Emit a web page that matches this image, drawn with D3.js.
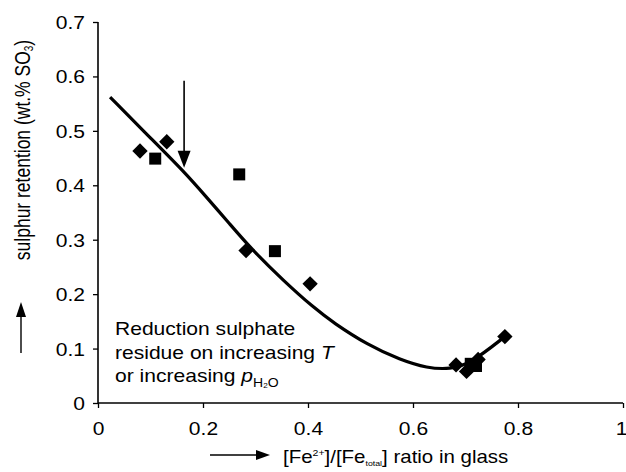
<!DOCTYPE html>
<html>
<head>
<meta charset="utf-8">
<script src="https://cdn.jsdelivr.net/npm/d3@7"></script>
<style>
  html, body { margin: 0; padding: 0; background: #fff; }
  svg { display: block; }
  text { font-family: "Liberation Sans", Arial, sans-serif; fill: #000; }
</style>
</head>
<body>
<svg id="chart" width="626" height="472"></svg>
<script>
// ---- data ----
const xTicks = [0, 0.2, 0.4, 0.6, 0.8, 1];
const xTickLabels = ["0", "0.2", "0.4", "0.6", "0.8", "1"];
const yTicks = [0, 0.1, 0.2, 0.3, 0.4, 0.5, 0.6, 0.7];
const yTickLabels = ["0", "0.1", "0.2", "0.3", "0.4", "0.5", "0.6", "0.7"];

const diamondX = [0.080, 0.131, 0.282, 0.404, 0.682, 0.702, 0.724, 0.775];
const diamondY = [0.463, 0.480, 0.280, 0.219, 0.070, 0.058, 0.080, 0.122];
const squareX = [0.109, 0.269, 0.337, 0.710, 0.720];
const squareY = [0.449, 0.420, 0.279, 0.072, 0.068];

// trend line
const trendX = [0.023, 0.100, 0.164, 0.205, 0.250, 0.291, 0.354, 0.411, 0.449, 0.513, 0.576, 0.627, 0.671, 0.709, 0.775];
const trendY = [0.562, 0.487, 0.425, 0.380, 0.330, 0.284, 0.224, 0.175, 0.147, 0.107, 0.079, 0.064, 0.062, 0.072, 0.122];

// annotation arrow (data units)
const arrowX = [0.164, 0.164];
const arrowY = [0.592, 0.432];

const noteLines = ["Reduction sulphate", "residue on increasing ", "or increasing "];

// ---- layout ----
const svg = d3.select("#chart");
const SX = 1.17; // horizontal text stretch of the reference
const x = d3.scaleLinear().domain([0, 1]).range([98, 623]);
const y = d3.scaleLinear().domain([0, 0.7]).range([403, 22]);

// axes
const xAxis = d3.axisBottom(x).tickValues(xTicks).tickSize(5).tickFormat((d, i) => xTickLabels[i]);
const yAxis = d3.axisLeft(y).tickValues(yTicks).tickSize(5).tickFormat((d, i) => yTickLabels[i]);

const gx = svg.append("g").attr("transform", `translate(0,${y(0)})`).call(xAxis);
const gy = svg.append("g").attr("transform", `translate(${x(0)},0)`).call(yAxis);

[gx, gy].forEach(g => {
  g.select(".domain").attr("stroke", "#000").attr("stroke-width", 1.6);
  g.selectAll(".tick line").attr("stroke", "#000").attr("stroke-width", 1.3);
  g.selectAll(".tick text").attr("font-size", 18).attr("font-family", "Liberation Sans, Arial, sans-serif");
});
gx.selectAll(".domain").attr("d", `M${x(0)},0H${x(1)}`);
gy.selectAll(".domain").attr("d", `M0,${y(0)}V${y(0.7)}`);
gx.selectAll(".tick text").attr("y", 0).attr("dy", 0)
  .attr("transform", (d, i) => `translate(${i === xTicks.length - 1 ? -2 : 0},32) scale(${SX},1)`);
gy.selectAll(".tick text").attr("x", 0).attr("dy", 0)
  .attr("transform", `translate(-13,6.5) scale(${SX},1)`);

// trend curve
const line = d3.line().x(d => x(d[0])).y(d => y(d[1])).curve(d3.curveBasis);
svg.append("path")
  .datum(trendX.map((v, i) => [v, trendY[i]]))
  .attr("d", line)
  .attr("fill", "none").attr("stroke", "#000").attr("stroke-width", 3.2);

// markers
svg.selectAll(".diamond").data(diamondX.map((v, i) => [v, diamondY[i]])).enter()
  .append("path").attr("class", "diamond")
  .attr("d", d3.symbol(d3.symbolDiamond2, 150)())
  .attr("transform", d => `translate(${x(d[0])},${y(d[1])})`)
  .attr("fill", "#000");
svg.selectAll(".square").data(squareX.map((v, i) => [v, squareY[i]])).enter()
  .append("rect").attr("class", "square")
  .attr("x", d => x(d[0]) - 6).attr("y", d => y(d[1]) - 6)
  .attr("width", 12).attr("height", 12).attr("fill", "#000");

// annotation arrow
const ax = x(arrowX[0]), ay0 = y(arrowY[0]), ay1 = y(arrowY[1]);
svg.append("line").attr("x1", ax).attr("x2", ax).attr("y1", ay0).attr("y2", ay1 - 14)
  .attr("stroke", "#000").attr("stroke-width", 1.6);
svg.append("path").attr("d", `M${ax - 6.5},${ay1 - 17}L${ax + 6.5},${ay1 - 17}L${ax},${ay1}Z`).attr("fill", "#000");

// note text
const note = svg.append("g").attr("transform", `translate(115,0)`);
note.append("text").attr("transform", `translate(0,335) scale(${SX},1)`).attr("font-size", 18).text(noteLines[0]);
const t2 = note.append("text").attr("transform", `translate(0,358.5) scale(${SX},1)`).attr("font-size", 18);
t2.append("tspan").text(noteLines[1]);
t2.append("tspan").attr("font-style", "italic").text("T");
const t3 = note.append("text").attr("transform", `translate(0,382) scale(${SX},1)`).attr("font-size", 18);
t3.append("tspan").text(noteLines[2]);
t3.append("tspan").attr("font-style", "italic").text("p");
t3.append("tspan").attr("font-size", 12).attr("dy", 5).text("H");
t3.append("tspan").attr("font-size", 7).attr("dy", 1).text("2");
t3.append("tspan").attr("font-size", 12).attr("dy", -1).text("O");

// x axis title with arrow
svg.append("line").attr("x1", 210).attr("x2", 258).attr("y1", 455).attr("y2", 455)
  .attr("stroke", "#000").attr("stroke-width", 1.4);
svg.append("path").attr("d", "M256,450L270,455L256,460Z").attr("fill", "#000");
const xt = svg.append("text").attr("transform", `translate(283,463) scale(${SX},1)`).attr("font-size", 17.5);
xt.append("tspan").text("[Fe");
xt.append("tspan").attr("font-size", 9).attr("dy", -7).text("2+");
xt.append("tspan").attr("dy", 7).text("]/[Fe");
xt.append("tspan").attr("font-size", 7.5).attr("dy", 3).text("total");
xt.append("tspan").attr("dy", -3).text("] ratio in glass");

// y axis title with arrow
svg.append("line").attr("x1", 21).attr("x2", 21).attr("y1", 353).attr("y2", 312)
  .attr("stroke", "#000").attr("stroke-width", 1.4);
svg.append("path").attr("d", "M16,317L21,302L26,317Z").attr("fill", "#000");
const yt = svg.append("text")
  .attr("transform", `translate(29.5,150) rotate(-90) scale(1,1.3)`)
  .attr("text-anchor", "middle").attr("font-size", 17.5);
yt.append("tspan").text("sulphur retention (wt.% SO");
yt.append("tspan").attr("font-size", 10).attr("dy", 3).text("3");
yt.append("tspan").attr("dy", -3).text(")");
</script>
</body>
</html>
